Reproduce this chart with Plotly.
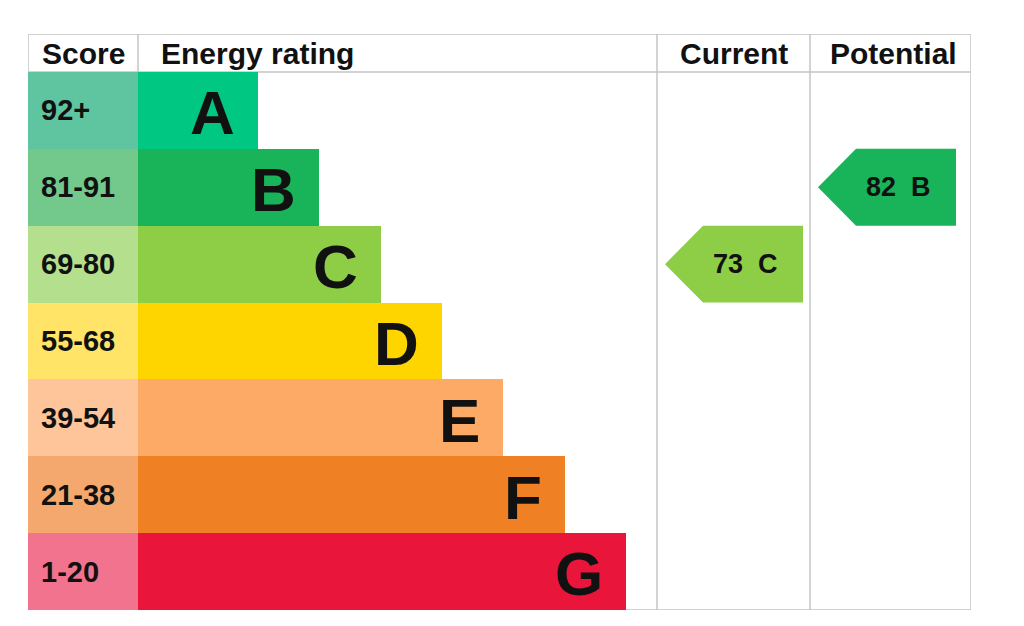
import plotly.graph_objects as go

# EPC bands, top to bottom
bands = ["A", "B", "C", "D", "E", "F", "G"]
score_ranges = ["92+", "81-91", "69-80", "55-68", "39-54", "21-38", "1-20"]
band_min = [92, 81, 69, 55, 39, 21, 1]

current_score = 73
potential_score = 82

bar_colors = ["#00c781", "#19b459", "#8dce46", "#ffd500", "#fcaa65", "#ef8023", "#e9153b"]
score_colors = ["#5fc5a0", "#72c98b", "#b4e08d", "#ffe467", "#fec59b", "#f4a86e", "#f2738e"]

FONT = "Liberation Sans, Arial, Helvetica, sans-serif"
GRID = "#c4c4c4"

# layout in axis units (x ~ pixels from the left frame, y in rows)
W = 943
SCORE_W = 110
ENERGY_END = 629
CUR_END = 782
HEAD = 38 / 76.857


def band_of(score):
    for i, lo in enumerate(band_min):
        if score >= lo:
            return i
    return len(bands) - 1


rows = [i + 0.5 for i in range(len(bands))]
lengths = [120 + 61.3 * i for i in range(len(bands))]

fig = go.Figure()

fig.add_trace(go.Bar(
    y=rows, x=[SCORE_W] * len(bands), base=0, orientation="h", width=1,
    marker=dict(color=score_colors, line=dict(width=0)), hoverinfo="skip",
))
fig.add_trace(go.Bar(
    y=rows, x=lengths, base=SCORE_W, orientation="h", width=1,
    marker=dict(color=bar_colors, line=dict(width=0)), hoverinfo="skip",
))

ann = []
for i, b in enumerate(bands):
    ann.append(dict(x=11, y=rows[i], text=score_ranges[i], xanchor="left", showarrow=False,
                    font=dict(size=29, color="#111", family=FONT, weight="bold")))
    ann.append(dict(x=SCORE_W + lengths[i] - 21, y=rows[i] + 0.03, text=b, xanchor="right",
                    showarrow=False, font=dict(size=62, color="#111", family=FONT, weight="bold")))


def add_arrow(score, col_left, label_x):
    i = band_of(score)
    tip = col_left + 8
    notch = tip + 38
    right = tip + 138
    xs = [tip, notch, right, right, notch, tip]
    ys = [i + 0.5, i, i, i + 1, i + 1, i + 0.5]
    fig.add_trace(go.Scatter(x=xs, y=ys, mode="lines", fill="toself", fillcolor=bar_colors[i],
                             line=dict(width=0, color=bar_colors[i]), hoverinfo="skip"))
    ann.append(dict(x=label_x, y=i + 0.5, text=f"{score}&nbsp;&nbsp;{bands[i]}", showarrow=False,
                    font=dict(size=27, color="#111", family=FONT, weight="bold")))


add_arrow(current_score, ENERGY_END, 717)
add_arrow(potential_score, CUR_END, 870)

head_y = -HEAD / 2
for x, t, anchor in [(12, "Score", "left"), (131, "Energy rating", "left"),
                     ((ENERGY_END + CUR_END) / 2, "Current", "center"),
                     ((CUR_END + W) / 2 + 3, "Potential", "center")]:
    ann.append(dict(x=x, y=head_y, text=t, xanchor=anchor, showarrow=False,
                    font=dict(size=30, color="#111", family=FONT, weight="bold")))

line = dict(color=GRID, width=1.5)
shapes = [
    dict(type="rect", x0=0, x1=W, y0=-HEAD, y1=7, line=line, layer="below"),
    dict(type="line", x0=0, x1=W, y0=0, y1=0, line=line, layer="below"),
    dict(type="line", x0=SCORE_W, x1=SCORE_W, y0=-HEAD, y1=0, line=line),
    dict(type="line", x0=ENERGY_END, x1=ENERGY_END, y0=-HEAD, y1=7, line=line),
    dict(type="line", x0=CUR_END, x1=CUR_END, y0=-HEAD, y1=7, line=line),
]

fig.update_layout(
    width=1024, height=626,
    margin=dict(l=20, r=61, t=26, b=24),
    paper_bgcolor="white", plot_bgcolor="white",
    showlegend=False, barmode="overlay", bargap=0,
    xaxis=dict(range=[0, W], visible=False, fixedrange=True),
    yaxis=dict(range=[7, -HEAD], visible=False, fixedrange=True),
    annotations=ann, shapes=shapes,
)

fig.write_html("out.html")
